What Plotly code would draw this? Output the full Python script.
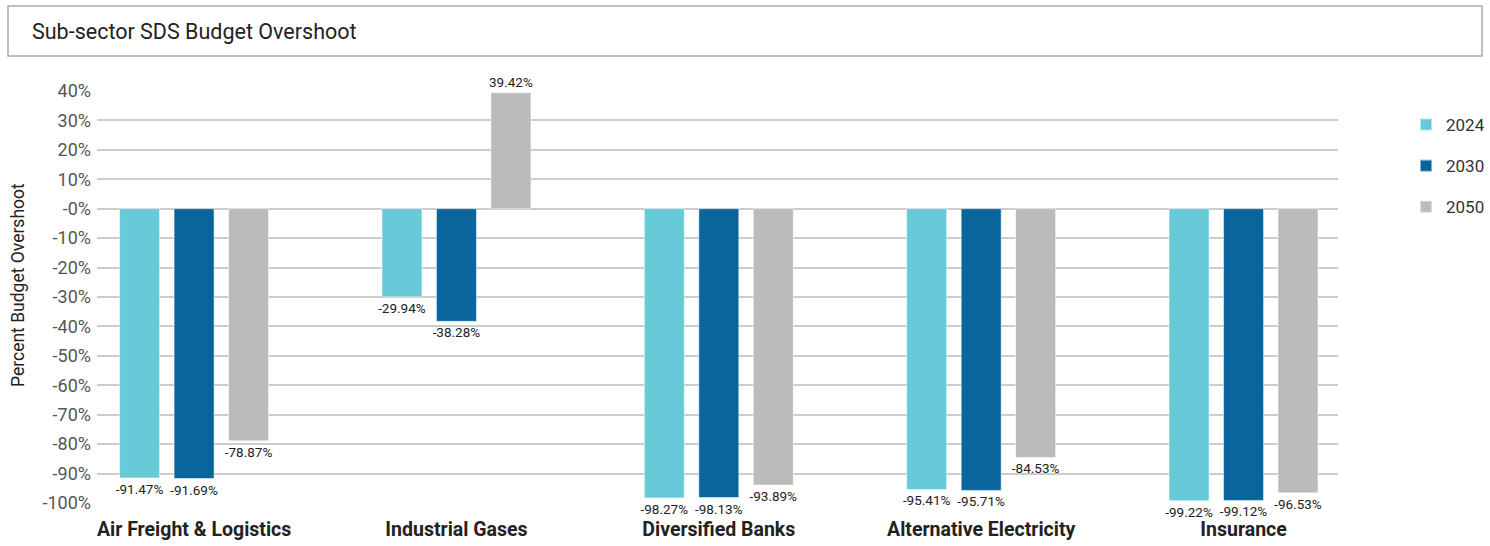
import plotly.graph_objects as go

categories = ["Air Freight & Logistics", "Industrial Gases", "Diversified Banks",
              "Alternative Electricity", "Insurance"]
years = ["2024", "2030", "2050"]
values_2024 = [-91.47, -29.94, -98.27, -95.41, -99.22]
values_2030 = [-91.69, -38.28, -98.13, -95.71, -99.12]
values_2050 = [-78.87, 39.42, -93.89, -84.53, -96.53]
colors = ["#66CAD8", "#0B659D", "#BBBBBB"]
tick_values = [40, 30, 20, 10, 0, -10, -20, -30, -40, -50, -60, -70, -80, -90, -100]
tick_labels = ["40%", "30%", "20%", "10%", "-0%", "-10%", "-20%", "-30%", "-40%",
               "-50%", "-60%", "-70%", "-80%", "-90%", "-100%"]

positions = list(range(len(categories)))
fig = go.Figure()
for year, vals, col in zip(years, [values_2024, values_2030, values_2050], colors):
    fig.add_trace(go.Bar(
        x=positions, y=vals, name=year, legendgroup=year,
        marker=dict(color=col, line=dict(color="rgba(255,255,255,0.5)", width=1)),
        text=[f"{v:.2f}%" for v in vals], textposition="outside",
        constraintext="none",
        textfont=dict(size=13.5, color="#222222", family="Roboto"),
        cliponaxis=False,
    ))

L, R, T, B = 97, 1338, 91, 503
pw, ph = R - L, B - T

fig.update_layout(
    width=1490, height=546,
    paper_bgcolor="white", plot_bgcolor="white",
    font=dict(family="Roboto", color="#333333"),
    barmode="group", bargap=0.377, bargroupgap=0.266,
    margin=dict(l=L, r=1490 - R, t=T, b=546 - B, autoexpand=False),
    showlegend=True,
    legend=dict(xref="container", yref="container", x=1406 / 1490, y=1 - 107 / 546,
                xanchor="left", yanchor="top",
                font=dict(size=17, color="#333333"), tracegroupgap=16,
                itemsizing="constant", traceorder="grouped"),
    xaxis=dict(range=[-0.37, 4.36], tickvals=positions, ticktext=categories,
               showgrid=False, zeroline=False, showline=False, ticks="",
               tickfont=dict(size=19.5, color="#222222", family="Roboto", weight="bold"),
               ticklabelstandoff=12),
    yaxis=dict(range=[-100, 40], tickvals=tick_values, ticktext=tick_labels,
               showgrid=True, gridcolor="#CCCCCC", gridwidth=2,
               zeroline=True, zerolinecolor="#CCCCCC", zerolinewidth=2,
               tickfont=dict(size=18, color="#555555"), ticklabelstandoff=5),
    shapes=[dict(type="rect", xref="paper", yref="paper",
                 x0=(8 - L) / pw, x1=(1482 - L) / pw,
                 y0=(B - 56) / ph, y1=(B - 6) / ph,
                 line=dict(color="#AAAAAA", width=1.5), fillcolor="rgba(0,0,0,0)")],
    annotations=[
        dict(text="Sub-sector SDS Budget Overshoot", xref="paper", yref="paper",
             x=(30 - L) / pw, y=(B - 31) / ph, xanchor="left", yanchor="middle",
             showarrow=False, font=dict(size=21.5, color="#222222")),
        dict(text="Percent Budget Overshoot", xref="paper", yref="paper",
             x=(18 - L) / pw, y=(B - 285) / ph, xanchor="center", yanchor="middle",
             textangle=-90, showarrow=False, font=dict(size=17.5, color="#222222")),
    ],
)

fig.write_html("out.html")
